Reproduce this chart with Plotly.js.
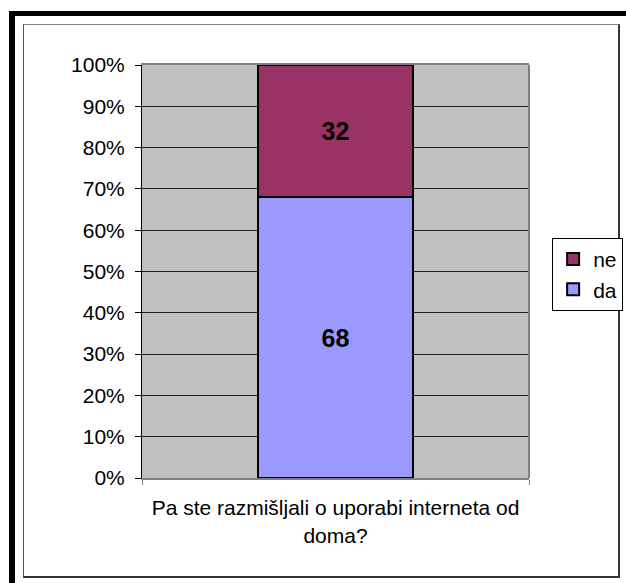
<!DOCTYPE html>
<html>
<head>
<meta charset="utf-8">
<script src="https://cdn.plot.ly/plotly-3.0.1.min.js"></script>
<style>
  html, body { margin: 0; padding: 0; background: #ffffff; overflow: hidden; width: 626px; height: 583px; }
  #outer { position: absolute; left: 9px; top: 11px; width: 611px; height: 572px;
           border-left: 6px solid #000; border-top: 5px solid #000; }
  #inner { position: absolute; left: 23px; top: 24px; width: 594px; height: 551px;
           border-left: 1px solid #555; border-top: 1px solid #888;
           border-right: 2px solid #333; border-bottom: 2px solid #333; }
  #chart { position: absolute; left: 0; top: 0; width: 626px; height: 583px; }
</style>
</head>
<body>
<div id="outer"></div>
<div id="inner"></div>
<div id="chart"></div>
<script>
const categories = ["Pa ste razmišljali o uporabi interneta od<br>doma?"];
const daValues = [68];
const neValues = [32];
const seriesNames = ["da", "ne"];
const yTickVals = [0, 10, 20, 30, 40, 50, 60, 70, 80, 90, 100];
const yTickLabels = ["0%", "10%", "20%", "30%", "40%", "50%", "60%", "70%", "80%", "90%", "100%"];

const fontFam = "Liberation Sans, Arial, sans-serif";
const fs = 21;
const valFs = 25;

const traces = [
  {
    type: "bar", name: seriesNames[0], x: categories, y: daValues,
    text: daValues.map(String), textposition: "inside", insidetextanchor: "middle",
    constraintext: "none",
    textfont: { family: fontFam, size: valFs, color: "#000", weight: "bold" },
    marker: { color: "#9999FF", line: { color: "#000", width: 2 } },
    width: 0.4, hoverinfo: "none"
  },
  {
    type: "bar", name: seriesNames[1], x: categories, y: neValues,
    text: neValues.map(String), textposition: "inside", insidetextanchor: "middle",
    constraintext: "none",
    textfont: { family: fontFam, size: valFs, color: "#000", weight: "bold" },
    marker: { color: "#993366", line: { color: "#000", width: 2 } },
    width: 0.4, hoverinfo: "none"
  }
];

const layout = {
  width: 626, height: 583,
  margin: { l: 142, r: 97, t: 65, b: 105, autoexpand: false },
  paper_bgcolor: "rgba(0,0,0,0)",
  plot_bgcolor: "#C0C0C0",
  barmode: "stack",
  font: { family: fontFam, size: fs, color: "#000" },
  showlegend: true,
  legend: {
    xref: "container", yref: "container",
    x: 0.882, y: 0.592, xanchor: "left", yanchor: "top",
    bgcolor: "#fff", bordercolor: "#000", borderwidth: 1,
    font: { family: fontFam, size: fs, color: "#000" },
    traceorder: "reversed", itemwidth: 30
  },
  xaxis: {
    type: "category",
    showline: true, linecolor: "#808080", linewidth: 2, mirror: true,
    ticks: "outside", tickson: "boundaries", ticklen: 5, tickcolor: "#808080",
    showgrid: false, zeroline: false, tickangle: 0, automargin: false,
    tickfont: { family: fontFam, size: fs, color: "#000" },
    ticklabelstandoff: 10
  },
  yaxis: {
    range: [0, 100], tickvals: yTickVals, ticktext: yTickLabels,
    showline: true, linecolor: "#000", linewidth: 1, automargin: false,
    ticks: "outside", ticklen: 6, tickcolor: "#000",
    showgrid: true, gridcolor: "#222", gridwidth: 1, zeroline: false,
    tickfont: { family: fontFam, size: fs, color: "#000" },
    ticklabelstandoff: 6
  },
  shapes: [
    { type: "line", xref: "paper", yref: "paper", x0: 1, x1: 1, y0: 0, y1: 1,
      line: { color: "#808080", width: 2 } }
  ]
};

Plotly.newPlot("chart", traces, layout, { displayModeBar: false, staticPlot: true });
</script>
</body>
</html>
